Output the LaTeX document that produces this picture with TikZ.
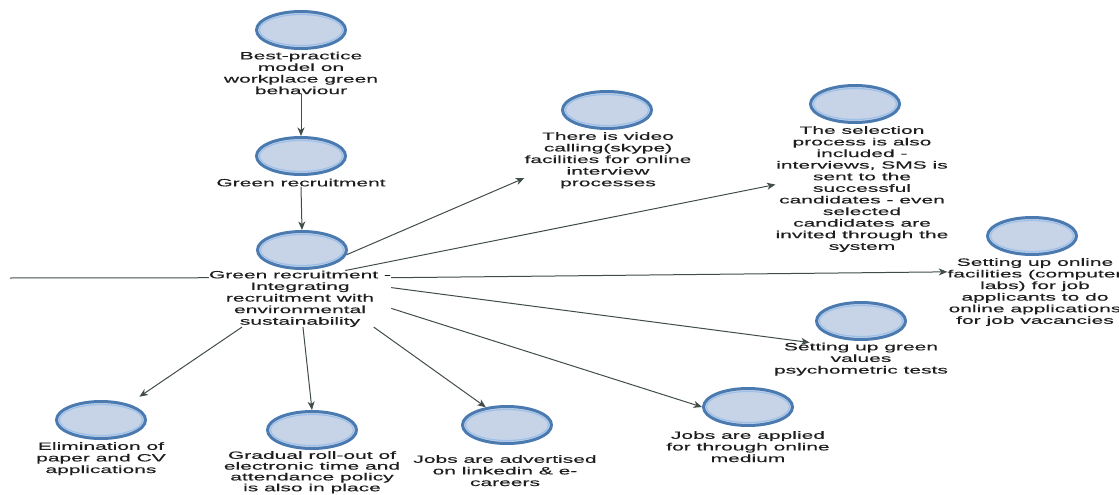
\documentclass[tikz,border=0pt]{standalone}
\usepackage{fontspec}
\setmainfont{Liberation Sans}[FakeStretch=2.0,FakeBold=0.4]
\usetikzlibrary{arrows.meta,shapes.geometric}
\definecolor{ringdark}{HTML}{4A7AB0}
\definecolor{ringlight}{HTML}{9CC0E8}
\definecolor{bubfill}{HTML}{C7D4E8}
\definecolor{arrowcol}{HTML}{414D4B}
\definecolor{txt}{HTML}{1E1E1E}
\newcommand\mkbub[2]{\node[bubble] (#1) at (#2) {}; \node[ring] (#1r) at (#2) {};}
\begin{document}
\begin{tikzpicture}[x=1pt,y=-1pt,
 bubble/.style={ellipse, draw=ringdark, line width=3pt, fill=bubfill, minimum width=89pt, minimum height=37pt, inner sep=0pt},
 ring/.style={ellipse, draw=ringlight, line width=1.2pt, minimum width=83pt, minimum height=31pt, inner sep=0pt},
 lbl/.style={anchor=north, align=center, font=\fontsize{10.5}{11.6}\selectfont, text=txt, inner sep=0pt},
 conn/.style={draw=arrowcol, line width=1pt, -{Stealth[length=8.5pt,width=7pt,inset=2.5pt]}},
 plainline/.style={draw=arrowcol, line width=1pt}]
\useasboundingbox (0,0) rectangle (1119,495);
% bubbles
\mkbub{c1}{301,30}
\mkbub{c2}{301,156}
\mkbub{c3}{302,250}
\mkbub{c4}{607,110}
\mkbub{c5}{855,104}
\mkbub{c6}{1032,236}
\mkbub{c7}{861,321}
\mkbub{c8}{748,407}
\mkbub{c9}{507,425}
\mkbub{c10}{312,430}
\mkbub{c11}{101,420}
% labels
\node[lbl] (t1) at (301,51.5) {Best-practice\\model on\\workplace green\\behaviour};
\node[lbl] (t2) at (301,178.5) {Green recruitment};
\node[lbl] (t3) at (300,270.5) {Green recruitment -\\Integrating\\recruitment with\\environmental\\sustainability};
\node[lbl] (t4) at (608,132) {There is video\\calling(skype)\\facilities for online\\interview\\processes};
\node[lbl] (t5) at (862,126) {The selection\\process is also\\included -\\interviews, SMS is\\sent to the\\successful\\candidates - even\\selected\\candidates are\\invited through the\\system};
\node[lbl] (t6) at (1035,258) {Setting up online\\facilities (computer\\labs) for job\\applicants to do\\online applications\\for job vacancies};
\node[lbl] (t7) at (861,342.5) {Setting up green\\values\\psychometric tests};
\node[lbl] (t8) at (748,431) {Jobs are applied\\for through online\\medium};
\node[lbl] (t9) at (505,455) {Jobs are advertised\\on linkedin \& e-\\careers};
\node[lbl, font=\fontsize{10.5}{10.8}\selectfont] (t10) at (312,451) {Gradual roll-out of\\electronic time and\\attendance policy\\is also in place};
\node[lbl] (t11) at (101,442) {Elimination of\\paper and CV\\applications};
% connectors
\coordinate (lft) at (10,278);
\draw[conn] (t1.south) -- (c2.north);
\draw[conn] (t2.south) -- (c3.north);
\draw[plainline] (lft) -- (t3.167);
\draw[conn] (c3.-6) -- (t4.192);
\draw[conn] (t3.32) -- (t5.177);
\draw[conn] (t3.13) -- (t6.167);
\draw[conn] (t3.7) -- (t7.162);
\draw[conn] (t3.-6) -- (c8.west);
\draw[conn] (t3.-21) -- (c9.140);
\draw[conn] (t3.-84) -- (c10.north);
\draw[conn, shorten >=13pt] (t3.206) -- (c11.30);
\end{tikzpicture}
\end{document}
